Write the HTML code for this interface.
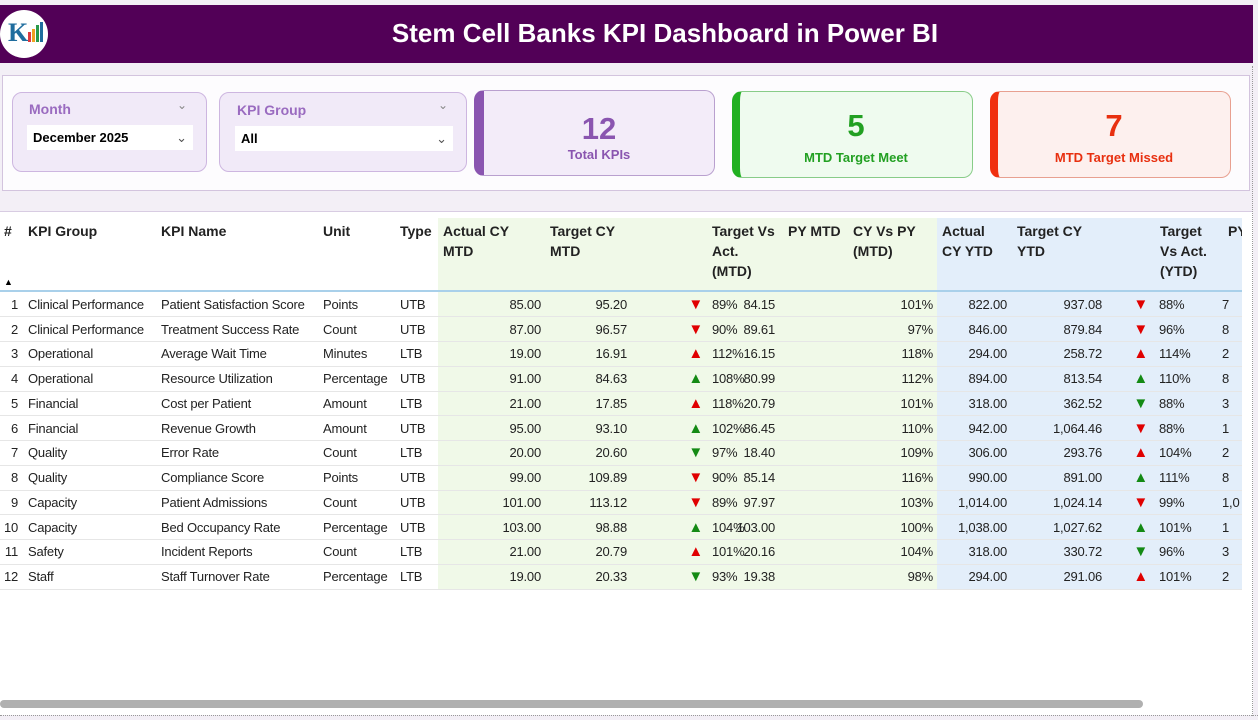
<!DOCTYPE html>
<html><head><meta charset="utf-8"><style>
*{box-sizing:border-box;margin:0;padding:0}
body{width:1258px;height:720px;overflow:hidden;background:#f3eff6;font-family:"Liberation Sans",sans-serif;position:relative}
.abs{position:absolute}
.hdr{left:0;width:1253px;top:5px;height:58px;background:#520057}
.title{left:0;width:1330px;top:18px;text-align:center;color:#fff;font-weight:bold;font-size:26px}
.logo{left:0;top:10px;width:48px;height:48px;border-radius:50%;background:#fff}
.panel{left:2px;top:75px;width:1248px;height:116px;background:#fdfcfe;border:1px solid #d3c4de}
.slicer{background:#f1eaf8;border:1px solid #cdb6e0;border-radius:10px}
.slab{color:#9a6bc0;font-weight:bold;font-size:14px}
.dd{background:#fff;font-size:13px;font-weight:bold;padding:5px 6px}
.card{border-radius:10px;text-align:center}
.card .n{font-size:31px;font-weight:bold;margin-top:20px}
.card .l{font-size:13px;font-weight:bold;margin-top:4px}
.tpanel{left:0;top:211px;width:1253px;height:504px;background:#fff;border-top:1px solid #d8cce2}
table{border-collapse:collapse;table-layout:fixed;font-size:13px;color:#222;letter-spacing:-0.2px}
td{height:24.75px;white-space:nowrap;overflow:hidden;border-bottom:1px solid #e6e6e6;padding:0}
td.l4.g,td.g.r:nth-child(10){overflow:visible}
.r{text-align:right;padding-right:5px}
.l4{padding-left:4px}
.g{background:#f0f9e8}.b{background:#e3eefa}
.up{font-size:15px;line-height:12px}.rd{color:#e00000}.gn{color:#148a14}
.w{display:block;margin-left:-30px}
.h{position:absolute;top:221px;font-size:14px;font-weight:bold;line-height:20px;color:#222;white-space:nowrap}
</style></head><body>
<div class="abs hdr"></div>
<div class="abs logo"><div class="abs" style="left:8px;top:8px;font:bold 26px 'Liberation Serif',serif;color:#1f6d9e">K</div><div class="abs" style="left:28px;top:22px;width:3px;height:10px;background:#e0393e"></div><div class="abs" style="left:32px;top:19px;width:3px;height:13px;background:#f0a020"></div><div class="abs" style="left:36px;top:15px;width:3px;height:17px;background:#2a9a4a"></div><div class="abs" style="left:40px;top:12px;width:3px;height:20px;background:#1f6d9e"></div></div>
<div class="abs title">Stem Cell Banks KPI Dashboard in Power BI</div>

<div class="abs panel"></div>
<div class="abs slicer" style="left:12px;top:92px;width:195px;height:80px"></div>
<div class="abs slab" style="left:29px;top:101px">Month</div>
<div class="abs" style="left:177px;top:98px;color:#888;font-size:12px">&#8964;</div>
<div class="abs dd" style="left:27px;top:125px;width:166px;height:25px">December 2025<span style="float:right;color:#555;font-weight:normal">&#8964;</span></div>
<div class="abs slicer" style="left:219px;top:92px;width:248px;height:80px"></div>
<div class="abs slab" style="left:237px;top:102px">KPI Group</div>
<div class="abs" style="left:438px;top:98px;color:#888;font-size:12px">&#8964;</div>
<div class="abs dd" style="left:235px;top:126px;width:218px;height:25px">All<span style="float:right;color:#555;font-weight:normal">&#8964;</span></div>

<div class="abs card" style="left:474px;top:90px;width:241px;height:86px;background:#f3ecf9;border:1px solid #b9a0cf;border-left:10px solid #8a55b0;color:#8a55b0"><div class="n">12</div><div class="l" style="margin-top:0">Total KPIs</div></div>
<div class="abs card" style="left:732px;top:91px;width:241px;height:87px;background:#effbef;border:1px solid #88cc88;border-left:8px solid #22b022;color:#22a022"><div class="n" style="margin-top:16px">5</div><div class="l" style="margin-top:6px">MTD Target Meet</div></div>
<div class="abs card" style="left:990px;top:91px;width:241px;height:87px;background:#fdf0ee;border:1px solid #e8a090;border-left:8px solid #f03010;color:#e83010"><div class="n" style="margin-top:16px">7</div><div class="l" style="margin-top:6px">MTD Target Missed</div></div>

<div class="abs tpanel"></div>
<div class="abs g" style="left:438px;top:218px;width:499px;height:73px"></div>
<div class="abs b" style="left:937px;top:218px;width:305px;height:73px"></div>
<div class="abs" style="left:0;top:290px;width:1242px;border-top:2px solid #a9d0ea"></div>
<div class="abs" style="left:1252px;top:66px;height:650px;border-left:1px dotted #999"></div>
<div class="abs" style="left:0;top:715px;width:1258px;border-top:1px dotted #999"></div>

<div class="h" style="left:4px">#</div>
<div class="abs" style="left:4px;top:277px;font-size:9px">&#9650;</div>
<div class="h" style="left:28px">KPI Group</div>
<div class="h" style="left:161px">KPI Name</div>
<div class="h" style="left:323px">Unit</div>
<div class="h" style="left:400px">Type</div>
<div class="h" style="left:443px">Actual CY<br>MTD</div>
<div class="h" style="left:550px">Target CY<br>MTD</div>
<div class="h" style="left:712px">Target Vs<br>Act.<br>(MTD)</div>
<div class="h" style="left:788px">PY MTD</div>
<div class="h" style="left:853px">CY Vs PY<br>(MTD)</div>
<div class="h" style="left:942px">Actual<br>CY YTD</div>
<div class="h" style="left:1017px">Target CY<br>YTD</div>
<div class="h" style="left:1160px">Target<br>Vs Act.<br>(YTD)</div>
<div class="h" style="left:1228px;width:14px;overflow:hidden">PY</div>

<table class="abs" style="left:0;top:292px;width:1242px">
<colgroup><col style="width:24px"><col style="width:133px"><col style="width:162px"><col style="width:77px"><col style="width:42px"><col style="width:108px"><col style="width:86px"><col style="width:76px"><col style="width:37px"><col style="width:35px"><col style="width:157px"><col style="width:75px"><col style="width:95px"><col style="width:48px"><col style="width:67px"><col style="width:20px"></colgroup>
<tr><td class="r" style="padding-right:6px">1</td><td class="l4">Clinical Performance</td><td class="l4">Patient Satisfaction Score</td><td class="l4">Points</td><td class="l4">UTB</td><td class="r g">85.00</td><td class="r g">95.20</td><td class="r g"><span class="up rd">▼</span></td><td class="g l4">89%</td><td class="g r"><span class="w">84.15</span></td><td class="r g" style="padding-right:4px">101%</td><td class="r b">822.00</td><td class="r b">937.08</td><td class="r b" style="padding-right:7px"><span class="up rd">▼</span></td><td class="b l4">88%</td><td class="b">7</td></tr>
<tr><td class="r" style="padding-right:6px">2</td><td class="l4">Clinical Performance</td><td class="l4">Treatment Success Rate</td><td class="l4">Count</td><td class="l4">UTB</td><td class="r g">87.00</td><td class="r g">96.57</td><td class="r g"><span class="up rd">▼</span></td><td class="g l4">90%</td><td class="g r"><span class="w">89.61</span></td><td class="r g" style="padding-right:4px">97%</td><td class="r b">846.00</td><td class="r b">879.84</td><td class="r b" style="padding-right:7px"><span class="up rd">▼</span></td><td class="b l4">96%</td><td class="b">8</td></tr>
<tr><td class="r" style="padding-right:6px">3</td><td class="l4">Operational</td><td class="l4">Average Wait Time</td><td class="l4">Minutes</td><td class="l4">LTB</td><td class="r g">19.00</td><td class="r g">16.91</td><td class="r g"><span class="up rd">▲</span></td><td class="g l4">112%</td><td class="g r"><span class="w">16.15</span></td><td class="r g" style="padding-right:4px">118%</td><td class="r b">294.00</td><td class="r b">258.72</td><td class="r b" style="padding-right:7px"><span class="up rd">▲</span></td><td class="b l4">114%</td><td class="b">2</td></tr>
<tr><td class="r" style="padding-right:6px">4</td><td class="l4">Operational</td><td class="l4">Resource Utilization</td><td class="l4">Percentage</td><td class="l4">UTB</td><td class="r g">91.00</td><td class="r g">84.63</td><td class="r g"><span class="up gn">▲</span></td><td class="g l4">108%</td><td class="g r"><span class="w">80.99</span></td><td class="r g" style="padding-right:4px">112%</td><td class="r b">894.00</td><td class="r b">813.54</td><td class="r b" style="padding-right:7px"><span class="up gn">▲</span></td><td class="b l4">110%</td><td class="b">8</td></tr>
<tr><td class="r" style="padding-right:6px">5</td><td class="l4">Financial</td><td class="l4">Cost per Patient</td><td class="l4">Amount</td><td class="l4">LTB</td><td class="r g">21.00</td><td class="r g">17.85</td><td class="r g"><span class="up rd">▲</span></td><td class="g l4">118%</td><td class="g r"><span class="w">20.79</span></td><td class="r g" style="padding-right:4px">101%</td><td class="r b">318.00</td><td class="r b">362.52</td><td class="r b" style="padding-right:7px"><span class="up gn">▼</span></td><td class="b l4">88%</td><td class="b">3</td></tr>
<tr><td class="r" style="padding-right:6px">6</td><td class="l4">Financial</td><td class="l4">Revenue Growth</td><td class="l4">Amount</td><td class="l4">UTB</td><td class="r g">95.00</td><td class="r g">93.10</td><td class="r g"><span class="up gn">▲</span></td><td class="g l4">102%</td><td class="g r"><span class="w">86.45</span></td><td class="r g" style="padding-right:4px">110%</td><td class="r b">942.00</td><td class="r b">1,064.46</td><td class="r b" style="padding-right:7px"><span class="up rd">▼</span></td><td class="b l4">88%</td><td class="b">1</td></tr>
<tr><td class="r" style="padding-right:6px">7</td><td class="l4">Quality</td><td class="l4">Error Rate</td><td class="l4">Count</td><td class="l4">LTB</td><td class="r g">20.00</td><td class="r g">20.60</td><td class="r g"><span class="up gn">▼</span></td><td class="g l4">97%</td><td class="g r"><span class="w">18.40</span></td><td class="r g" style="padding-right:4px">109%</td><td class="r b">306.00</td><td class="r b">293.76</td><td class="r b" style="padding-right:7px"><span class="up rd">▲</span></td><td class="b l4">104%</td><td class="b">2</td></tr>
<tr><td class="r" style="padding-right:6px">8</td><td class="l4">Quality</td><td class="l4">Compliance Score</td><td class="l4">Points</td><td class="l4">UTB</td><td class="r g">99.00</td><td class="r g">109.89</td><td class="r g"><span class="up rd">▼</span></td><td class="g l4">90%</td><td class="g r"><span class="w">85.14</span></td><td class="r g" style="padding-right:4px">116%</td><td class="r b">990.00</td><td class="r b">891.00</td><td class="r b" style="padding-right:7px"><span class="up gn">▲</span></td><td class="b l4">111%</td><td class="b">8</td></tr>
<tr><td class="r" style="padding-right:6px">9</td><td class="l4">Capacity</td><td class="l4">Patient Admissions</td><td class="l4">Count</td><td class="l4">UTB</td><td class="r g">101.00</td><td class="r g">113.12</td><td class="r g"><span class="up rd">▼</span></td><td class="g l4">89%</td><td class="g r"><span class="w">97.97</span></td><td class="r g" style="padding-right:4px">103%</td><td class="r b">1,014.00</td><td class="r b">1,024.14</td><td class="r b" style="padding-right:7px"><span class="up rd">▼</span></td><td class="b l4">99%</td><td class="b">1,0</td></tr>
<tr><td class="r" style="padding-right:6px">10</td><td class="l4">Capacity</td><td class="l4">Bed Occupancy Rate</td><td class="l4">Percentage</td><td class="l4">UTB</td><td class="r g">103.00</td><td class="r g">98.88</td><td class="r g"><span class="up gn">▲</span></td><td class="g l4">104%</td><td class="g r"><span class="w">103.00</span></td><td class="r g" style="padding-right:4px">100%</td><td class="r b">1,038.00</td><td class="r b">1,027.62</td><td class="r b" style="padding-right:7px"><span class="up gn">▲</span></td><td class="b l4">101%</td><td class="b">1</td></tr>
<tr><td class="r" style="padding-right:6px">11</td><td class="l4">Safety</td><td class="l4">Incident Reports</td><td class="l4">Count</td><td class="l4">LTB</td><td class="r g">21.00</td><td class="r g">20.79</td><td class="r g"><span class="up rd">▲</span></td><td class="g l4">101%</td><td class="g r"><span class="w">20.16</span></td><td class="r g" style="padding-right:4px">104%</td><td class="r b">318.00</td><td class="r b">330.72</td><td class="r b" style="padding-right:7px"><span class="up gn">▼</span></td><td class="b l4">96%</td><td class="b">3</td></tr>
<tr><td class="r" style="padding-right:6px">12</td><td class="l4">Staff</td><td class="l4">Staff Turnover Rate</td><td class="l4">Percentage</td><td class="l4">LTB</td><td class="r g">19.00</td><td class="r g">20.33</td><td class="r g"><span class="up gn">▼</span></td><td class="g l4">93%</td><td class="g r"><span class="w">19.38</span></td><td class="r g" style="padding-right:4px">98%</td><td class="r b">294.00</td><td class="r b">291.06</td><td class="r b" style="padding-right:7px"><span class="up rd">▲</span></td><td class="b l4">101%</td><td class="b">2</td></tr>
</table>
<div class="abs" style="left:0;top:700px;width:1143px;height:8px;border-radius:4px;background:#b0b0b0"></div>
</body></html>
